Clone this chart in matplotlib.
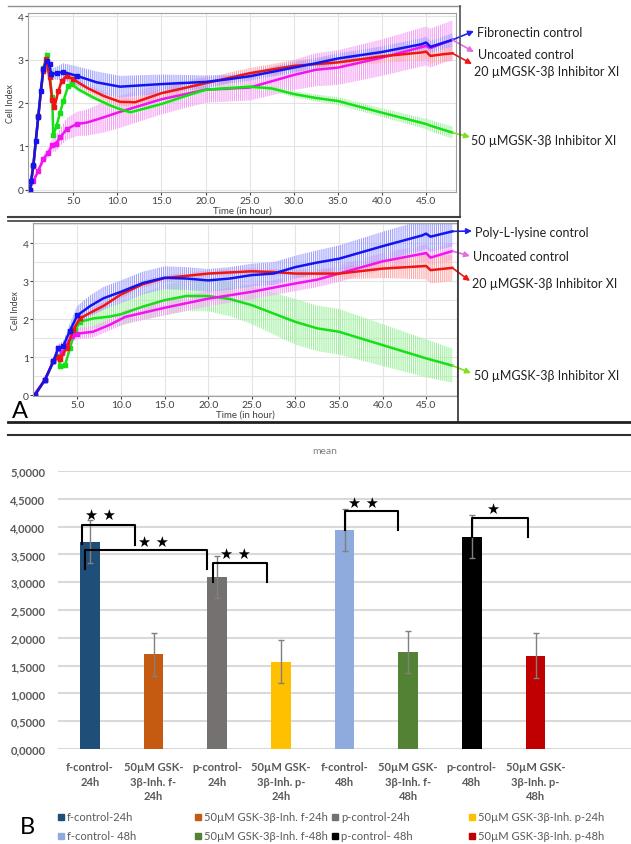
import numpy as np
import matplotlib
matplotlib.use('Agg')
import matplotlib.pyplot as plt
from matplotlib.lines import Line2D
from matplotlib.patches import Rectangle

W, H = 631, 845
plt.rcParams['font.family'] = ['Lato', 'DejaVu Sans']
plt.rcParams['hatch.linewidth'] = 0.8

# ---- panel A, top: fibronectin coated wells (time in h, cell index, error) ----
fn_blue_t = [0.1, 0.2, 0.47, 0.73, 1.03, 1.3, 1.6, 1.98, 2.3, 2.47, 3.1, 3.87, 5.4, 7.65, 10.3, 15, 20, 22.5, 25, 30, 32.5, 35, 40, 44.5, 45, 45.5, 48]
fn_blue_v = [0.0, 0.2, 0.57, 1.12, 1.69, 2.28, 2.78, 2.98, 2.9, 2.67, 2.69, 2.72, 2.63, 2.48, 2.38, 2.44, 2.49, 2.55, 2.62, 2.82, 2.92, 3.03, 3.18, 3.36, 3.40, 3.30, 3.46]
fn_blue_e = [0.02, 0.05, 0.05, 0.05, 0.05, 0.05, 0.05, 0.05, 0.1, 0.12, 0.15, 0.2, 0.22, 0.25, 0.25, 0.22, 0.15, 0.1, 0.1, 0.12, 0.12, 0.12, 0.13, 0.14, 0.14, 0.14, 0.15]

fn_red_t = [0.1, 0.47, 1.03, 1.6, 1.9, 2.3, 2.6, 2.85, 3.3, 3.7, 4.25, 5.0, 6.5, 8.4, 10.3, 12.0, 15, 20, 25, 30, 35, 40, 44.5, 45, 45.5, 47, 48]
fn_red_v = [0.0, 0.55, 1.7, 2.75, 3.02, 2.6, 2.07, 1.90, 2.28, 2.52, 2.63, 2.55, 2.36, 2.17, 2.03, 2.02, 2.23, 2.46, 2.69, 2.86, 2.94, 3.08, 3.17, 3.19, 3.09, 3.13, 3.15]
fn_red_e = [0.02, 0.05, 0.08, 0.1, 0.25, 0.2, 0.15, 0.1, 0.1, 0.1, 0.1, 0.1, 0.1, 0.1, 0.1, 0.1, 0.12, 0.12, 0.12, 0.13, 0.13, 0.15, 0.18, 0.18, 0.18, 0.18, 0.18]

fn_green_t = [0.1, 0.47, 1.03, 1.6, 1.98, 2.3, 2.6, 2.73, 3.1, 3.5, 3.87, 4.43, 4.8, 5.57, 7.27, 9.16, 10.3, 11.5, 15, 17.5, 20, 25, 27.5, 30, 32.5, 35, 40, 45, 45.5, 48]
fn_green_v = [0.0, 0.55, 1.7, 2.8, 3.1, 2.7, 2.15, 1.26, 1.48, 1.78, 2.05, 2.40, 2.44, 2.32, 2.13, 1.95, 1.86, 1.79, 1.98, 2.15, 2.31, 2.38, 2.34, 2.21, 2.12, 2.05, 1.78, 1.52, 1.48, 1.32]
fn_green_e = [0.02, 0.05, 0.05, 0.05, 0.1, 0.1, 0.08, 0.06, 0.06, 0.06, 0.06, 0.06, 0.06, 0.06, 0.05, 0.05, 0.05, 0.05, 0.05, 0.05, 0.06, 0.06, 0.06, 0.07, 0.08, 0.09, 0.1, 0.12, 0.13, 0.14]

fn_mag_t = [0.0, 0.47, 1.03, 1.6, 2.17, 2.62, 3.0, 3.5, 4.25, 5.4, 6.5, 8.4, 10.3, 15, 20, 25, 30, 32.5, 35, 40, 45, 45.5, 48]
fn_mag_v = [0.0, 0.2, 0.44, 0.71, 0.86, 1.03, 1.06, 1.21, 1.40, 1.52, 1.55, 1.67, 1.80, 2.09, 2.31, 2.36, 2.65, 2.77, 2.82, 3.05, 3.32, 3.27, 3.46]
fn_mag_e = [0.02, 0.05, 0.08, 0.1, 0.12, 0.15, 0.18, 0.2, 0.25, 0.28, 0.3, 0.35, 0.37, 0.35, 0.3, 0.3, 0.35, 0.38, 0.4, 0.42, 0.45, 0.45, 0.45]

# ---- panel A, bottom: poly-L-lysine coated wells ----
pl_blue_t = [0.15, 1.3, 2.25, 2.83, 3.4, 4.16, 5.0, 6.5, 8.0, 10, 12.5, 15, 17.5, 20, 22.5, 25, 27.5, 30, 32.5, 35, 40, 44.5, 45, 45.5, 48]
pl_blue_v = [0.01, 0.41, 0.89, 1.24, 1.3, 1.7, 2.1, 2.35, 2.55, 2.72, 2.95, 3.09, 3.07, 3.02, 3.07, 3.16, 3.2, 3.37, 3.49, 3.59, 3.92, 4.2, 4.25, 4.17, 4.31]
pl_blue_e = [0.02, 0.05, 0.08, 0.1, 0.12, 0.2, 0.25, 0.28, 0.3, 0.3, 0.3, 0.3, 0.3, 0.3, 0.3, 0.3, 0.3, 0.3, 0.32, 0.35, 0.38, 0.4, 0.4, 0.4, 0.4]

pl_red_t = [0.15, 1.3, 2.25, 2.83, 3.0, 3.78, 4.54, 5.3, 6.5, 8.0, 10, 12.5, 15, 20, 25, 27.5, 30, 32.5, 35, 40, 45, 45.5, 48]
pl_red_v = [0.01, 0.41, 0.89, 1.0, 0.95, 1.24, 1.72, 2.02, 2.17, 2.35, 2.65, 2.92, 3.08, 3.2, 3.26, 3.24, 3.2, 3.2, 3.2, 3.33, 3.4, 3.29, 3.35]
pl_red_e = [0.02, 0.05, 0.08, 0.1, 0.1, 0.12, 0.12, 0.12, 0.1, 0.1, 0.1, 0.1, 0.08, 0.08, 0.08, 0.08, 0.1, 0.12, 0.15, 0.25, 0.35, 0.35, 0.35]

pl_green_t = [0.15, 1.3, 2.25, 2.9, 3.0, 3.6, 4.16, 4.74, 5.3, 6.84, 8.75, 10, 12.5, 15, 17.5, 20, 22.5, 25, 27.5, 30, 32.5, 35, 40, 45, 48]
pl_green_v = [0.01, 0.41, 0.89, 1.03, 0.76, 0.8, 1.24, 1.72, 1.93, 2.02, 2.07, 2.13, 2.33, 2.5, 2.61, 2.61, 2.53, 2.37, 2.15, 1.93, 1.76, 1.67, 1.32, 0.97, 0.78]
pl_green_e = [0.02, 0.05, 0.08, 0.1, 0.1, 0.1, 0.12, 0.15, 0.2, 0.25, 0.3, 0.3, 0.35, 0.4, 0.4, 0.4, 0.45, 0.5, 0.55, 0.6, 0.6, 0.6, 0.55, 0.5, 0.45]

pl_mag_t = [0.0, 1.3, 2.25, 2.83, 3.2, 3.78, 4.35, 5.0, 6.8, 8.7, 10.5, 15, 20, 25, 30, 32.5, 35, 40, 45, 45.5, 48]
pl_mag_v = [0.0, 0.41, 0.89, 1.25, 1.1, 1.32, 1.55, 1.62, 1.67, 1.85, 2.06, 2.3, 2.54, 2.72, 2.94, 3.04, 3.2, 3.52, 3.74, 3.62, 3.79]
pl_mag_e = [0.02, 0.05, 0.1, 0.12, 0.12, 0.12, 0.15, 0.15, 0.15, 0.15, 0.18, 0.2, 0.2, 0.2, 0.2, 0.2, 0.22, 0.22, 0.22, 0.22, 0.22]

fn_labels = ['Fibronectin control', 'Uncoated control', '20 µMGSK-3β Inhibitor XI', '50 µMGSK-3β Inhibitor XI']
pl_labels = ['Poly-L-lysine control', 'Uncoated control', '20 µMGSK-3β Inhibitor XI', '50 µMGSK-3β Inhibitor XI']

# ---- panel B: bar chart of means ----
bar_labels = ['f-control-\n24h', '50µM GSK-\n3β-Inh. f-\n24h', 'p-control-\n24h', '50µM GSK-\n3β-Inh. p-\n24h',
              'f-control-\n48h', '50µM GSK-\n3β-Inh. f-\n48h', 'p-control-\n48h', '50µM GSK-\n3β-Inh. p-\n48h']
legend_labels = ['f-control-24h', '50µM GSK-3β-Inh. f-24h', 'p-control-24h', '50µM GSK-3β-Inh. p-24h',
                 'f-control- 48h', '50µM GSK-3β-Inh. f-48h', 'p-control- 48h', '50µM GSK-3β-Inh. p-48h']
bar_means = [3.73, 1.70, 3.10, 1.57, 3.94, 1.75, 3.82, 1.68]
bar_err = [0.39, 0.39, 0.38, 0.39, 0.38, 0.38, 0.38, 0.40]
bar_colors = ['#1F4E79', '#C55A11', '#767171', '#FFC000', '#8FAADC', '#548235', '#000000', '#C00000']
# significance brackets: left x, right x, top, left foot, right foot, star x, star y, stars
brackets = [(-0.12, 0.71, 4.03, 3.69, 3.67, 0.17, 4.21, '★ ★'),
            (-0.08, 1.84, 3.58, 3.24, 3.24, 1.0, 3.74, '★ ★'),
            (1.93, 2.78, 3.35, 3.0, 3.0, 2.28, 3.51, '★ ★'),
            (4.0, 4.84, 4.28, 3.94, 3.94, 4.3, 4.44, '★ ★'),
            (6.01, 6.89, 4.16, 3.81, 3.82, 6.33, 4.33, '★')]


def rect(x0, y0, x1, y1):
    return [x0 / W, 1 - y1 / H, (x1 - x0) / W, (y1 - y0) / H]


def hline(fig, x0, x1, y, color, lw):
    fig.add_artist(Line2D([x0 / W, x1 / W], [1 - y / H, 1 - y / H], color=color, lw=lw, transform=fig.transFigure))


def vline(fig, x, y0, y1, color, lw):
    fig.add_artist(Line2D([x / W, x / W], [1 - y0 / H, 1 - y1 / H], color=color, lw=lw, transform=fig.transFigure))


colors = {'blue': ('#1414F0', '#A0A0FF'), 'red': ('#F01414', '#FFA8A8'),
          'green': ('#14E014', '#A0F0A0'), 'mag': ('#F014F0', '#F5A0F5')}


def draw_series(ax, t, v, e, key):
    t = np.array(t)
    v = np.array(v)
    e = np.array(e)
    line_c, band_c = colors[key]
    ax.fill_between(t, v - e, v + e, facecolor='none', edgecolor=band_c, hatch='||||||||', linewidth=0)
    ax.plot(t, v, color=line_c, lw=1.8, marker='s', ms=2.2, markevery=list(t < 5.5))


def style_rtca(ax, xlim, ylim, yticks, ygrid):
    ax.set_xlim(*xlim)
    ax.set_ylim(*ylim)
    ax.set_xticks(np.arange(5, 46, 5))
    ax.set_xticklabels([f'{v:.1f}' for v in np.arange(5, 46, 5)])
    ax.set_yticks(yticks)
    ax.set_yticklabels([str(int(v)) for v in yticks])
    ax.set_yticks(ygrid, minor=True)
    ax.grid(True, which='both', axis='y', color='#E4E4E4', lw=0.8)
    ax.grid(True, which='major', axis='x', color='#E4E4E4', lw=0.8)
    ax.set_axisbelow(True)
    ax.tick_params(labelsize=7.5, colors='#404040', length=2, pad=1)
    ax.tick_params(which='minor', length=0)
    for s in ax.spines.values():
        s.set_color('#A0A0A0')
        s.set_linewidth(0.8)
    ax.set_xlabel('Time (in hour)', fontsize=7, color='#404040', labelpad=0)
    ax.set_ylabel('Cell Index', fontsize=6.5, color='#404040', labelpad=2)


fig = plt.figure(figsize=(W / 100, H / 100), dpi=100)

# top RTCA panel
ax1 = fig.add_axes(rect(28, 14, 456, 193))
draw_series(ax1, fn_mag_t, fn_mag_v, fn_mag_e, 'mag')
draw_series(ax1, fn_green_t, fn_green_v, fn_green_e, 'green')
draw_series(ax1, fn_red_t, fn_red_v, fn_red_e, 'red')
draw_series(ax1, fn_blue_t, fn_blue_v, fn_blue_e, 'blue')
style_rtca(ax1, (-0.14, 48.4), (-0.05, 4.08), [0, 1, 2, 3, 4], [0, 1, 2, 3, 4])

# bottom RTCA panel
ax2 = fig.add_axes(rect(33, 224, 457, 397))
draw_series(ax2, pl_green_t, pl_green_v, pl_green_e, 'green')
draw_series(ax2, pl_mag_t, pl_mag_v, pl_mag_e, 'mag')
draw_series(ax2, pl_red_t, pl_red_v, pl_red_e, 'red')
draw_series(ax2, pl_blue_t, pl_blue_v, pl_blue_e, 'blue')
style_rtca(ax2, (-0.08, 48.54), (-0.02, 4.53), [0, 1, 2, 3, 4], np.arange(0, 4.6, 0.5))

# arrows and labels on the right of the RTCA panels
arrow_cols = ['#2020F0', '#E070E0', '#F01414', '#80E020']
fn_ends = [(fn_blue_t[-1], fn_blue_v[-1]), (fn_mag_t[-1], fn_mag_v[-1]), (fn_red_t[-1], fn_red_v[-1]), (fn_green_t[-1], fn_green_v[-1])]
fn_heads = [(474, 32), (474, 53), (472, 65), (470, 138)]
fn_text = [(477, 33), (478, 55), (474, 72), (471, 141)]
pl_ends = [(pl_blue_t[-1], pl_blue_v[-1]), (pl_mag_t[-1], pl_mag_v[-1]), (pl_red_t[-1], pl_red_v[-1]), (pl_green_t[-1], pl_green_v[-1])]
pl_heads = [(472, 232), (470, 257), (470, 282), (471, 374)]
pl_text = [(475, 233), (473, 257), (472, 284), (474, 376)]
for ax, ends, heads, texts, labels in [(ax1, fn_ends, fn_heads, fn_text, fn_labels),
                                       (ax2, pl_ends, pl_heads, pl_text, pl_labels)]:
    for end, head, tp, lab, c in zip(ends, heads, texts, labels, arrow_cols):
        ax.annotate('', xy=(head[0], H - head[1]), xycoords='figure pixels',
                    xytext=end, textcoords='data',
                    arrowprops=dict(arrowstyle='-|>', color=c, lw=1.2, mutation_scale=8,
                                    shrinkA=0, shrinkB=0), annotation_clip=False)
        fig.text(tp[0] / W, 1 - tp[1] / H, lab, fontsize=9, color='#202020', ha='left', va='center')

# frame lines of panel A
hline(fig, 8, 460, 7, '#909090', 1.0)
vline(fig, 460, 7, 218, '#505050', 1.2)
hline(fig, 8, 460, 218, '#404040', 1.5)
hline(fig, 8, 458, 222, '#404040', 1.2)
vline(fig, 458, 222, 423, '#303030', 1.2)
hline(fig, 8, 631, 423, '#202020', 2.0)
hline(fig, 8, 631, 436, '#303030', 1.5)
fig.text(20 / W, 1 - 412 / H, 'A', fontsize=17, color='black', ha='center', va='center')

# panel B
axb = fig.add_axes(rect(58, 472, 631, 750))
xb = np.arange(len(bar_means))
axb.bar(xb, bar_means, width=0.31, color=bar_colors, yerr=bar_err, ecolor='#808080',
        error_kw=dict(lw=1, capsize=2, capthick=1), zorder=2)
axb.set_xlim(-0.5, 8.5)
axb.set_ylim(0, 5)
yt = np.arange(0, 5.01, 0.5)
axb.set_yticks(yt)
axb.set_yticklabels([f'{v:.4f}'.replace('.', ',') for v in yt])
axb.set_xticks(xb)
axb.set_xticklabels(bar_labels, linespacing=1.35)
axb.grid(True, axis='y', color='#D9D9D9', lw=1.5, zorder=0)
axb.set_axisbelow(True)
for s in axb.spines.values():
    s.set_visible(False)
axb.tick_params(length=0, labelsize=8, colors='#595959')
axb.tick_params(axis='y', pad=9)
axb.tick_params(axis='x', pad=9)
for lab in axb.get_xticklabels() + axb.get_yticklabels():
    lab.set_fontweight('bold')

for xl, xr, top, ld, rd, sx, sy, st in brackets:
    axb.plot([xl, xl, xr, xr], [ld, top, top, rd], color='black', lw=1.5,
             solid_joinstyle='round', clip_on=False, zorder=4)
    axb.text(sx, sy, st, ha='center', va='center', fontsize=10.5, family='DejaVu Sans', zorder=4)

fig.text(325 / W, 1 - 452 / H, 'mean', fontsize=7.5, color='#808080', ha='center', va='center')

leg_x = [58, 195, 332, 469]
leg_y = [818, 837]
for i, (lab, c) in enumerate(zip(legend_labels, bar_colors)):
    lx = leg_x[i % 4]
    ly = leg_y[i // 4]
    fig.add_artist(Rectangle((lx / W, 1 - (ly + 3) / H), 6 / W, 6 / H, color=c, transform=fig.transFigure))
    fig.text((lx + 9) / W, 1 - ly / H, lab, fontsize=8, color='#595959', ha='left', va='center')

fig.text(27 / W, 1 - 828 / H, 'B', fontsize=17, color='black', ha='center', va='center')

fig.savefig('out.png', dpi=100)
